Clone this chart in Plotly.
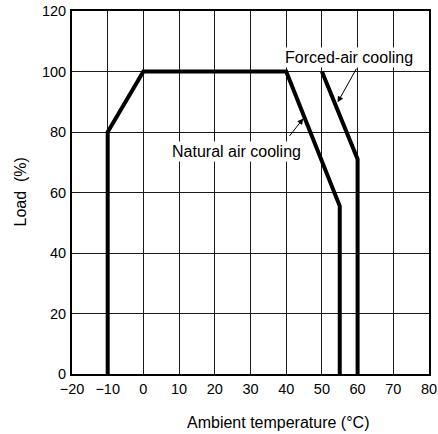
import plotly.graph_objects as go

# Data
natural_x = [-10, -10, 0, 40, 55, 55]
natural_y = [0, 80, 100, 100, 55.5, 0]
forced_x = [50, 60, 60]
forced_y = [100, 71, 0]

x_ticks = [-20, -10, 0, 10, 20, 30, 40, 50, 60, 70, 80]
x_ticklabels = ["−20", "−10", "0", "10", "20", "30", "40", "50", "60", "70", "80"]
y_ticks = [0, 20, 40, 60, 80, 100, 120]
y_ticklabels = ["0", "20", "40", "60", "80", "100", "120"]

FONT = "Liberation Sans, Arial, sans-serif"

fig = go.Figure()
fig.add_trace(go.Scatter(x=natural_x, y=natural_y, mode="lines",
                         line=dict(color="black", width=4), showlegend=False))
fig.add_trace(go.Scatter(x=forced_x, y=forced_y, mode="lines",
                         line=dict(color="black", width=4), showlegend=False))

annotations = [
    dict(text="Forced-air cooling", x=57.6, y=104.5, xref="x", yref="y",
         showarrow=False, bgcolor="white", font=dict(size=16, color="black", family=FONT)),
    dict(text="Natural air cooling", x=26.2, y=73.4, xref="x", yref="y",
         showarrow=False, bgcolor="white", font=dict(size=16, color="black", family=FONT)),
    dict(text="", x=54.4, y=89.8, ax=59.9, ay=101.4, xref="x", yref="y",
         axref="x", ayref="y", showarrow=True, arrowhead=2, arrowsize=1.2,
         arrowwidth=1, arrowcolor="black"),
    dict(text="", x=44.8, y=84.5, ax=40.6, ay=78.2, xref="x", yref="y",
         axref="x", ayref="y", showarrow=True, arrowhead=2, arrowsize=1.2,
         arrowwidth=1, arrowcolor="black"),
    dict(text="Load  (%)", x=0, y=0.5, xref="paper", yref="paper", xanchor="center",
         yanchor="middle", xshift=-52, textangle=-90, showarrow=False,
         font=dict(size=16, color="black", family=FONT)),
    dict(text="Ambient temperature (°C)", x=0.5, y=0, xref="paper", yref="paper",
         xanchor="center", yanchor="middle", xshift=27, yshift=-48, showarrow=False,
         font=dict(size=16, color="black", family=FONT)),
]

fig.update_layout(
    width=438, height=434,
    margin=dict(l=72, r=9, t=11, b=60, autoexpand=False),
    paper_bgcolor="white", plot_bgcolor="white",
    font=dict(family=FONT, size=14.5, color="black"),
    annotations=annotations,
    xaxis=dict(range=[-20, 80], tickvals=x_ticks, ticktext=x_ticklabels,
               showgrid=True, gridcolor="#1a1a1a", gridwidth=1, zeroline=False,
               showline=True, mirror=True, linecolor="black", linewidth=2,
               ticks="", ticklabelstandoff=1, fixedrange=True, automargin=False),
    yaxis=dict(range=[0, 120], tickvals=y_ticks, ticktext=y_ticklabels,
               showgrid=True, gridcolor="#1a1a1a", gridwidth=1, zeroline=False,
               showline=True, mirror=True, linecolor="black", linewidth=2,
               ticks="", ticklabelstandoff=1, fixedrange=True, automargin=False),
)

fig.write_html("out.html", config={"displayModeBar": False},
               post_script="document.body.style.margin='0';document.body.style.overflow='hidden';")
